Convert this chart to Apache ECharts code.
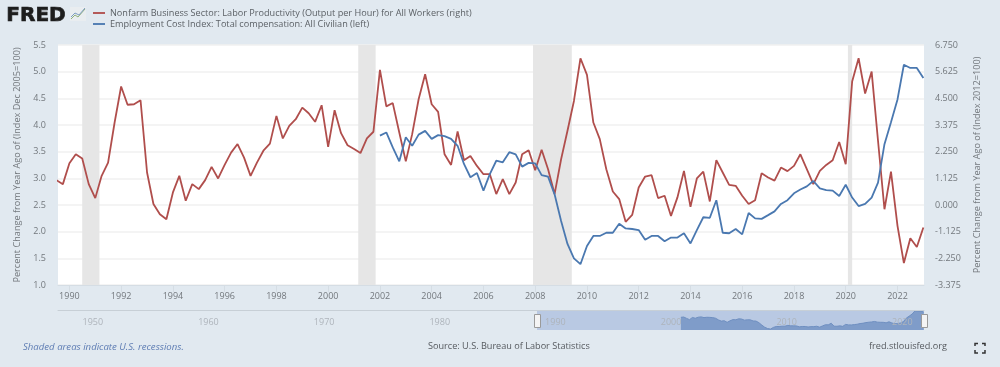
<!DOCTYPE html>
<html>
<head>
<meta charset="utf-8">
<title>Labor productivity and employment cost index</title>
<script src="https://cdn.jsdelivr.net/npm/echarts@6/dist/echarts.min.js"></script>
<style>
  html, body { margin: 0; padding: 0; background: #e1e9f0; }
  #chart { width: 1000px; height: 367px; }
</style>
</head>
<body>
<div id="chart"></div>
<script>
var redName = 'Nonfarm Business Sector: Labor Productivity (Output per Hour) for All Workers (right)'
var blueName = 'Employment Cost Index: Total compensation: All Civilian (left)'

// quarterly from 1989 Q3 to 2023 Q1, right axis
var productivity = [
  1.05, 0.88, 1.76, 2.14, 1.96, 0.88, 0.29, 1.23, 1.79, 3.48, 5.00, 4.23, 4.25, 4.42, 1.37, 0.04, -0.39, -0.60,
  0.53, 1.23, 0.18, 0.88, 0.67, 1.05, 1.61, 1.12, 1.69, 2.21, 2.57, 2.00, 1.23, 1.79, 2.29, 2.59, 3.76, 2.81,
  3.34, 3.62, 4.11, 3.87, 3.51, 4.21, 2.45, 4.00, 3.03, 2.52, 2.36, 2.19, 2.81, 3.09, 5.70, 4.16, 4.30, 3.06,
  1.84, 2.99, 4.46, 5.52, 4.25, 3.93, 2.14, 1.69, 3.10, 1.89, 2.07, 1.65, 1.30, 1.30, 0.46, 1.09, 0.46, 0.95,
  2.14, 2.31, 1.47, 2.33, 1.51, 0.46, 1.93, 3.13, 4.39, 6.19, 5.49, 3.48, 2.78, 1.51, 0.57, 0.25, -0.71, -0.42,
  0.74, 1.20, 1.26, 0.29, 0.39, -0.46, 0.32, 1.44, -0.08, 1.12, 1.41, 0.15, 1.89, 1.37, 0.85, 0.81, 0.39, 0.04,
  0.20, 1.34, 1.16, 1.03, 1.58, 1.43, 1.65, 2.14, 1.51, 0.88, 1.44, 1.69, 1.89, 2.66, 1.72, 5.21, 6.19, 4.70,
  5.63, 2.71, -0.18, 1.41, -0.88, -2.45, -1.40, -1.77, -0.95
]

// quarterly from 2002 Q1 to 2023 Q1, left axis
var compensation = [
  3.80, 3.86, 3.58, 3.32, 3.77, 3.61, 3.82, 3.89, 3.74, 3.81, 3.79, 3.74, 3.61, 3.27, 3.02, 3.10, 2.77, 3.08,
  3.33, 3.30, 3.49, 3.45, 3.22, 3.29, 3.28, 3.06, 3.03, 2.70, 2.20, 1.77, 1.50, 1.39, 1.73, 1.92, 1.92, 1.98,
  1.98, 2.15, 2.06, 2.05, 2.03, 1.85, 1.92, 1.92, 1.82, 1.89, 1.89, 1.97, 1.78, 2.03, 2.27, 2.26, 2.59, 1.98,
  1.97, 2.05, 1.95, 2.35, 2.25, 2.24, 2.31, 2.38, 2.52, 2.59, 2.72, 2.79, 2.85, 2.95, 2.81, 2.78, 2.77, 2.67,
  2.88, 2.64, 2.48, 2.52, 2.64, 2.92, 3.64, 4.05, 4.48, 5.13, 5.07, 5.07, 4.88
]

var yearTicks = ['1990', '1992', '1994', '1996', '1998', '2000', '2002', '2004', '2006', '2008', '2010', '2012', '2014', '2016', '2018', '2020', '2022']
var navTicks = ['1950', '1960', '1970', '1980', '1990', '2000', '2010', '2020']
var recessions = [
  ['1990-07-01', '1991-03-01'],
  ['2001-03-01', '2001-11-01'],
  ['2007-12-01', '2009-06-01'],
  ['2020-02-01', '2020-04-01']
]

var viewStart = '1989-07-24'
var viewEnd = '2023-01-10'
var navStart = '1948-02-20'

var quarters = []
for (var y = 1989; y <= 2023; y++) {
  ['01', '04', '07', '10'].forEach(function(m) {
    var d = y + '-' + m + '-01'
    if (d >= '1989-07-01' && d <= '2023-01-01') quarters.push(d)
  })
}
var compQuarters = quarters.slice(quarters.length - compensation.length)

function pairs(dates, values) {
  return values.map(function(v, i) { return [dates[i], v] })
}
function jan1(year) {
  return year + '-01-01'
}

var grey = '#73787d'
var font = '"Open Sans", sans-serif'
var chart = echarts.init(document.getElementById('chart'), null, { renderer: 'canvas' })

chart.setOption({
  animation: false,
  backgroundColor: '#e1e9f0',
  textStyle: { fontFamily: font },
  legend: {
    left: 88,
    top: 3.5,
    orient: 'vertical',
    itemWidth: 12,
    itemHeight: 10,
    itemGap: 2,
    icon: 'path://M0,4 L13,4 L13,6 L0,6 Z',
    textStyle: { color: '#5c6166', fontSize: 9.15, fontFamily: font },
    data: [redName, blueName]
  },
  grid: [
    { left: 58, right: 76, top: 45, height: 240, show: true, backgroundColor: '#fff', borderWidth: 0 },
    { left: 58, right: 76, top: 310, height: 20 }
  ],
  xAxis: [
    {
      type: 'time',
      gridIndex: 0,
      min: viewStart,
      max: viewEnd,
      splitLine: { show: false },
      axisLine: { onZero: false, lineStyle: { color: '#d5dde4' }},
      axisTick: { show: true, length: 7, customValues: yearTicks.map(jan1), lineStyle: { color: '#d5dde4' }},
      axisLabel: {
        color: grey,
        fontSize: 9,
        margin: 7,
        hideOverlap: false,
        customValues: yearTicks.map(jan1),
        formatter: '{yyyy}'
      }
    },
    {
      type: 'time',
      gridIndex: 1,
      position: 'top',
      z: 5,
      min: navStart,
      max: viewEnd,
      splitLine: { show: false },
      axisLine: { onZero: false, lineStyle: { color: '#c7cfd6' }},
      axisTick: { show: false },
      axisLabel: {
        inside: true,
        color: '#aeb4bb',
        fontSize: 9,
        margin: 8,
        align: 'left',
        padding: [0, 0, 0, 3],
        hideOverlap: false,
        customValues: navTicks.map(jan1),
        formatter: '{yyyy}'
      }
    }
  ],
  yAxis: [
    {
      type: 'value',
      gridIndex: 0,
      min: 1,
      max: 5.5,
      interval: 0.5,
      name: 'Percent Change from Year Ago of (Index Dec 2005=100)',
      nameLocation: 'middle',
      nameGap: 36,
      nameTextStyle: { color: grey, fontSize: 9.15 },
      axisLine: { show: false },
      axisTick: { show: false },
      axisLabel: { color: grey, fontSize: 9, margin: 12, formatter: function(v) { return v.toFixed(1) } },
      splitLine: { lineStyle: { color: '#f1f1f1', width: 1.5 }}
    },
    {
      type: 'value',
      gridIndex: 0,
      position: 'right',
      min: -3.375,
      max: 6.75,
      interval: 1.125,
      name: 'Percent Change from Year Ago of (Index 2012=100)',
      nameLocation: 'middle',
      nameGap: 49,
      nameTextStyle: { color: grey, fontSize: 9.15 },
      axisLine: { show: false },
      axisTick: { show: false },
      axisLabel: { color: grey, fontSize: 9, margin: 11, formatter: function(v) { return v.toFixed(3) } },
      splitLine: { show: false }
    },
    {
      type: 'value',
      gridIndex: 1,
      min: 1.2,
      max: 5.3,
      show: false
    }
  ],
  series: [
    {
      name: redName,
      type: 'line',
      xAxisIndex: 0,
      yAxisIndex: 1,
      showSymbol: false,
      lineStyle: { color: '#b04e4c', width: 1.8 },
      itemStyle: { color: '#b04e4c' },
      markArea: {
        silent: true,
        itemStyle: { color: '#e6e6e6' },
        data: recessions.map(function(r) { return [{ xAxis: r[0] }, { xAxis: r[1] }] })
      },
      data: pairs(quarters, productivity)
    },
    {
      name: blueName,
      type: 'line',
      xAxisIndex: 0,
      yAxisIndex: 0,
      showSymbol: false,
      lineStyle: { color: '#4a78b0', width: 1.8 },
      itemStyle: { color: '#4a78b0' },
      data: pairs(compQuarters, compensation)
    },
    {
      name: 'navigator',
      type: 'line',
      xAxisIndex: 1,
      yAxisIndex: 2,
      showSymbol: false,
      silent: true,
      lineStyle: { color: '#6f8fc0', width: 1 },
      areaStyle: { color: '#7f9cc9', opacity: 1 },
      markArea: {
        silent: true,
        itemStyle: { color: '#b9c9e3' },
        data: [[{ xAxis: viewStart }, { xAxis: viewEnd }]]
      },
      data: pairs(compQuarters, compensation)
    }
  ],
  graphic: [
    { type: 'text', left: 6, top: 5, style: { text: 'FRED', fontFamily: '"DejaVu Sans", sans-serif', fontWeight: 'bold', fontSize: 20, fill: '#1d1d1d', stroke: '#1d1d1d', lineWidth: 0.7 }},
    { type: 'rect', shape: { x: 70, y: 7, width: 16, height: 14 }, style: { fill: '#e9edf0' }},
    { type: 'polyline', shape: { points: [[71, 19], [75, 15], [78, 17], [85, 9]] }, style: { stroke: '#8fb07a', lineWidth: 1, fill: null }},
    { type: 'polyline', shape: { points: [[71, 17], [75, 13], [79, 15], [85, 8]] }, style: { stroke: '#7d9cc0', lineWidth: 1, fill: null }},

    { type: 'rect', shape: { x: 534.5, y: 314.5, width: 6, height: 13 }, style: { fill: '#f4f4f4', stroke: '#9a9a9a', lineWidth: 1 }, z: 10 },
    { type: 'rect', shape: { x: 921.5, y: 314.5, width: 6, height: 13 }, style: { fill: '#f4f4f4', stroke: '#9a9a9a', lineWidth: 1 }, z: 10 },

    { type: 'text', left: 23, top: 342, style: { text: 'Shaded areas indicate U.S. recessions.', fontFamily: font, fontStyle: 'italic', fontSize: 9.6, fill: '#5d7cb3' }},
    { type: 'text', left: 428, top: 342, style: { text: 'Source: U.S. Bureau of Labor Statistics', fontFamily: font, fontSize: 9.15, fill: '#55595e' }},
    { type: 'text', left: 869, top: 342, style: { text: 'fred.stlouisfed.org', fontFamily: font, fontSize: 9.15, fill: '#55595e' }},

    { type: 'polyline', shape: { points: [[975, 346], [975, 343.5], [978, 343.5]] }, style: { stroke: '#333', lineWidth: 1.5, fill: null }},
    { type: 'polyline', shape: { points: [[982, 343.5], [985, 343.5], [985, 346]] }, style: { stroke: '#333', lineWidth: 1.5, fill: null }},
    { type: 'polyline', shape: { points: [[975, 350], [975, 353], [978, 353]] }, style: { stroke: '#333', lineWidth: 1.5, fill: null }},
    { type: 'polyline', shape: { points: [[982, 353], [985, 353], [985, 350]] }, style: { stroke: '#333', lineWidth: 1.5, fill: null }}
  ]
})

window.addEventListener('resize', function() {
  chart.resize()
})
</script>
</body>
</html>
